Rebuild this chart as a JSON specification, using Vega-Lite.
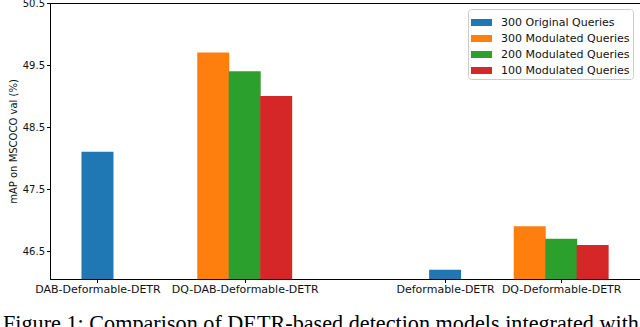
{
  "$schema": "https://vega.github.io/schema/vega-lite/v6.json",
  "width": 592,
  "height": 276,
  "autosize": {"type": "none"},
  "padding": {"left": 50, "top": 3, "right": 0, "bottom": 48},
  "background": "white",
  "config": {
    "view": {"stroke": "black", "strokeWidth": 1},
    "font": "DejaVu Sans",
    "axis": {"domainColor": "black", "tickColor": "black", "labelColor": "#111111", "titleColor": "#111111", "labelFontSize": 10, "titleFontSize": 10, "titleFontWeight": "normal", "tickSize": 3.5, "grid": false}
  },
  "title": {
    "text": "Figure 1: Comparison of DETR-based detection models integrated with",
    "orient": "bottom",
    "anchor": "start",
    "frame": "group",
    "font": "Liberation Serif",
    "fontSize": 22.2,
    "fontWeight": "normal",
    "color": "black",
    "dx": -47,
    "offset": 18
  },
  "data": {
    "values": [
      {"group": "DAB-Deformable-DETR", "series": "300 Original Queries", "pos": 1.35, "value": 48.1},
      {"group": "DQ-DAB-Deformable-DETR", "series": "300 Modulated Queries", "pos": 5.03, "value": 49.7},
      {"group": "DQ-DAB-Deformable-DETR", "series": "200 Modulated Queries", "pos": 6.03, "value": 49.4},
      {"group": "DQ-DAB-Deformable-DETR", "series": "100 Modulated Queries", "pos": 7.03, "value": 49.0},
      {"group": "Deformable-DETR", "series": "300 Original Queries", "pos": 12.4, "value": 46.2},
      {"group": "DQ-Deformable-DETR", "series": "300 Modulated Queries", "pos": 15.09, "value": 46.9},
      {"group": "DQ-Deformable-DETR", "series": "200 Modulated Queries", "pos": 16.09, "value": 46.7},
      {"group": "DQ-Deformable-DETR", "series": "100 Modulated Queries", "pos": 17.09, "value": 46.6}
    ]
  },
  "mark": {"type": "bar", "size": 32, "clip": true},
  "encoding": {
    "x": {
      "field": "pos",
      "type": "quantitative",
      "scale": {"domain": [0, 18.5], "nice": false, "zero": false},
      "axis": {
        "title": null,
        "values": [1.35, 6.03, 12.4, 16.09],
        "labelExpr": "datum.value < 3 ? 'DAB-Deformable-DETR' : datum.value < 9 ? 'DQ-DAB-Deformable-DETR' : datum.value < 14 ? 'Deformable-DETR' : 'DQ-Deformable-DETR'",
        "labelFontSize": 11,
        "labelPadding": 1,
        "labelFlush": false,
        "labelOverlap": false
      }
    },
    "y": {
      "field": "value",
      "type": "quantitative",
      "scale": {"domain": [46.05, 50.5], "nice": false, "zero": false},
      "axis": {
        "title": "mAP on MSCOCO val (%)",
        "values": [46.5, 47.5, 48.5, 49.5, 50.5],
        "format": ".1f",
        "labelPadding": 2,
        "titlePadding": 4
      }
    },
    "color": {
      "field": "series",
      "type": "nominal",
      "scale": {
        "domain": ["300 Original Queries", "300 Modulated Queries", "200 Modulated Queries", "100 Modulated Queries"],
        "range": ["#1f77b4", "#ff7f0e", "#2ca02c", "#d62728"]
      },
      "legend": {
        "title": null,
        "orient": "none",
        "legendX": 418,
        "legendY": 6,
        "symbolType": "M-1,-0.333H1V0.333H-1Z",
        "symbolSize": 441,
        "symbolStrokeWidth": 0,
        "symbolOpacity": 1,
        "labelFontSize": 11,
        "labelColor": "#111111",
        "labelOffset": 9,
        "padding": 3,
        "rowPadding": -1,
        "strokeColor": "#cccccc",
        "fillColor": "white",
        "cornerRadius": 3
      }
    }
  }
}
